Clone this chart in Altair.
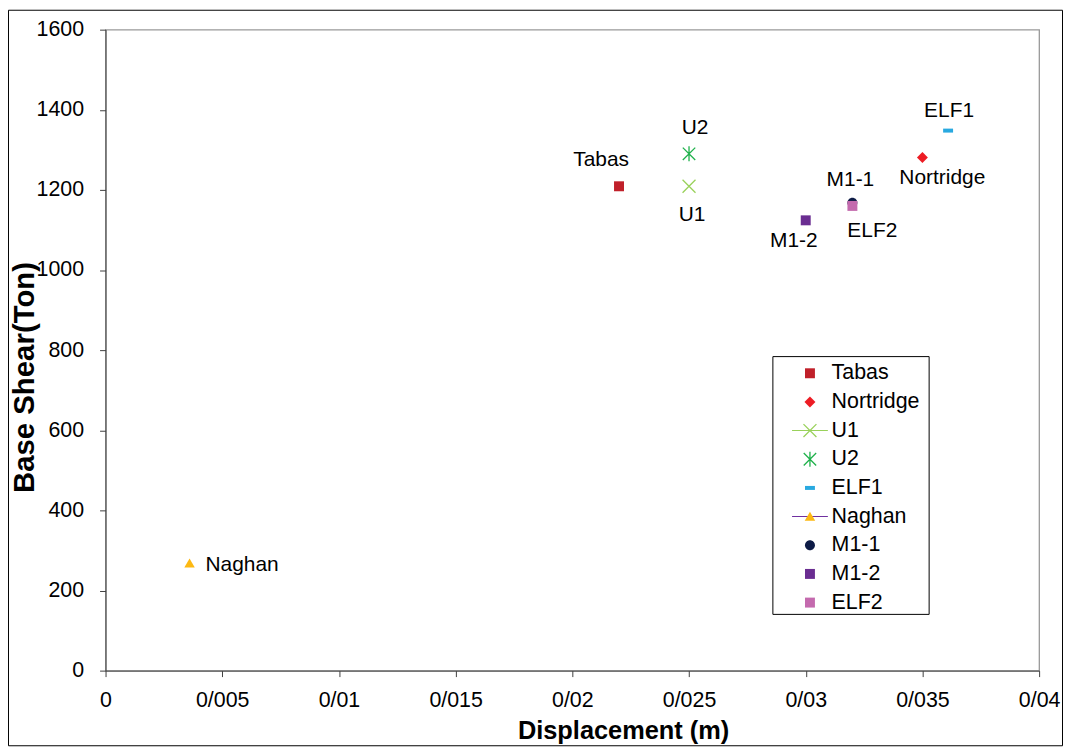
import math
import altair as alt
import pandas as pd

# ---------------- data ----------------
series = ["Tabas", "Nortridge", "U1", "U2", "ELF1", "Naghan", "M1-1", "M1-2", "ELF2"]
displacement = [0.022, 0.035, 0.025, 0.025, 0.0361, 0.0036, 0.032, 0.030, 0.032]
base_shear = [1209, 1281, 1209, 1290, 1348, 268, 1168, 1124, 1160]
x_ticks = [0, 0.005, 0.01, 0.015, 0.02, 0.025, 0.03, 0.035, 0.04]
y_ticks = [0, 200, 400, 600, 800, 1000, 1200, 1400, 1600]

# ---------------- styles ----------------
marker_colors = ["#C0202A", "#ED1C24", "#99D15A", "#1FB14B", "#29A9E0",
                 "#FDB913", "#0D1B46", "#6A2D91", "#C46AAE"]
legend_line_colors = ["transparent", "transparent", "#99D15A", "transparent", "transparent",
                      "#7030A0", "transparent", "transparent", "transparent"]

FONT = "Liberation Sans"


def seg(p, q, t):
    (x1, y1), (x2, y2) = p, q
    L = math.hypot(x2 - x1, y2 - y1)
    ux, uy = (x2 - x1) / L, (y2 - y1) / L
    nx, ny = -uy, ux
    pts = [(x1 + t * nx, y1 + t * ny), (x2 + t * nx, y2 + t * ny),
           (x2 - t * nx, y2 - t * ny), (x1 - t * nx, y1 - t * ny)]
    return "M" + "L".join(f"{x:.3f},{y:.3f}" for x, y in pts) + "Z"


SQUARE = "M-1,-1L1,-1L1,1L-1,1Z"
DIAMOND = "M0,-1.1L1.1,0L0,1.1L-1.1,0Z"
CROSS = seg((-1.3, -1.3), (1.3, 1.3), 0.13) + seg((-1.3, 1.3), (1.3, -1.3), 0.13)
STAR = seg((-1.25, -1.25), (1.25, 1.25), 0.13) + seg((-1.25, 1.25), (1.25, -1.25), 0.13) + seg((0, -1.5), (0, 1.5), 0.13)
DASH = "M-1,-0.4L1,-0.4L1,0.4L-1,0.4Z"
TRIANGLE = "M0,-0.95L1.05,0.85L-1.05,0.85Z"
CIRCLE = "M-1,0A1,1,0,1,1,1,0A1,1,0,1,1,-1,0Z"
marker_paths = [SQUARE, DIAMOND, CROSS, STAR, DASH, TRIANGLE, CIRCLE, SQUARE, SQUARE]
LINE = "M-3.6,-0.1L3.6,-0.1L3.6,0.1L-3.6,0.1Z"

# label placement relative to marker: (align, dx, dy to baseline)
label_place = {
    "Tabas": ("center", -18, -20),
    "U2": ("center", 6, -20),
    "U1": ("center", 3, 35),
    "M1-1": ("center", -2, -17),
    "ELF2": ("center", 20, 31),
    "M1-2": ("center", -12, 27),
    "Nortridge": ("center", 20, 27),
    "ELF1": ("center", 1, -14),
    "Naghan": ("left", 16, 8),
}

df = pd.DataFrame({"series": series, "disp": displacement, "shear": base_shear})

W, H = 938, 644

xenc = alt.X("disp:Q", scale=alt.Scale(domain=[0, 0.04], nice=False, zero=False),
             axis=alt.Axis(values=x_ticks, title="Displacement (m)",
                           labelExpr="replace(format(datum.value, '~g'), '.', '/')",
                           labelFlush=False, titleFontSize=25.5,
                           titleX=520, titleY=68, titleAnchor="start", titleAlign="center",
                           titleBaseline="alphabetic", labelPadding=13))
yenc = alt.Y("shear:Q", scale=alt.Scale(domain=[0, 1600], nice=False),
             axis=alt.Axis(values=y_ticks, format="d", title="Base Shear(Ton)",
                           labelFlush=False, titleFontSize=29.5,
                           titleX=-72, titleY=349, titleAngle=-90, titleAlign="center",
                           titleAnchor="start", titleBaseline="alphabetic", labelPadding=16))


def make_legend(label_color):
    return alt.Legend(orient="none", legendX=697, legendY=334.5, direction="vertical",
                      title=None, padding=0, rowPadding=5.8, symbolSize=100,
                      symbolStrokeWidth=0, labelOffset=11, labelFont=FONT,
                      labelFontSize=21.5, labelColor=label_color, labelLimit=300)


base = alt.Chart(df)

legend_lines = base.transform_filter("false").mark_point(
    filled=True, opacity=1, size=100, strokeWidth=0
).encode(
    x=xenc, y=yenc,
    shape=alt.Shape("series:N", scale=alt.Scale(domain=series, range=[LINE] * len(series)),
                    legend=make_legend("transparent")),
    color=alt.Color("series:N", scale=alt.Scale(domain=series, range=legend_line_colors),
                    legend=make_legend("transparent")),
)

points = base.mark_point(filled=True, opacity=1, size=100, strokeWidth=0).encode(
    x=xenc, y=yenc,
    shape=alt.Shape("series:N", scale=alt.Scale(domain=series, range=marker_paths),
                    legend=make_legend("black")),
    color=alt.Color("series:N", scale=alt.Scale(domain=series, range=marker_colors),
                    legend=make_legend("black")),
)

texts = []
for name in series:
    align, dx, dy = label_place[name]
    texts.append(
        base.transform_filter(alt.datum.series == name).mark_text(
            align=align, baseline="alphabetic", dx=dx, dy=dy, font=FONT,
            fontSize=21, color="black"
        ).encode(x=xenc, y=yenc, text="series:N")
    )

one = pd.DataFrame({"k": [0]})
outer_frame = alt.Chart(one).mark_rect(fill="transparent", stroke="black", strokeWidth=1).encode(
    x=alt.value(-97.5), x2=alt.value(961.5), y=alt.value(-19.5), y2=alt.value(719.5)
)
legend_box = alt.Chart(one).mark_rect(fill="transparent", stroke="black", strokeWidth=1).encode(
    x=alt.value(670.5), x2=alt.value(827.5), y=alt.value(328.5), y2=alt.value(587.5)
)

chart = alt.layer(legend_lines, points, *texts, legend_box, outer_frame).resolve_scale(
    color="independent", shape="independent"
).properties(
    width=W, height=H,
    background="white",
    autosize=alt.AutoSizeParams(type="none"),
    padding={"left": 98, "top": 20, "right": 25, "bottom": 76},
).configure_view(
    stroke="#999999", strokeWidth=1.3
).configure_axis(
    grid=False, domainColor="#404040", domainWidth=1, tickColor="#404040", tickSize=6,
    labelFont=FONT, labelFontSize=21.5, labelColor="black",
    titleFont=FONT, titleFontSize=24, titleFontWeight="bold", titleColor="black",
)

chart.save("out.html", embed_options={"renderer": "svg", "actions": False})
